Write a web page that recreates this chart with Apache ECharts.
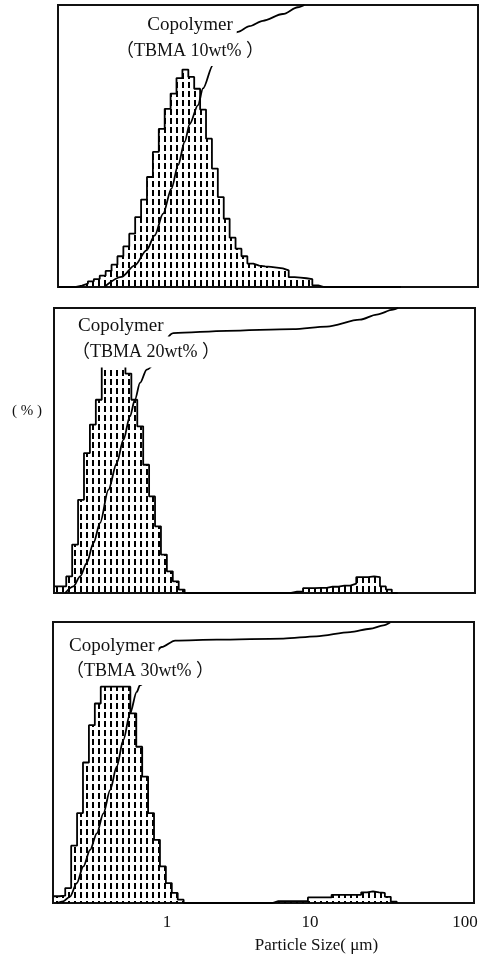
<!DOCTYPE html>
<html>
<head>
<meta charset="utf-8">
<script src="https://cdn.jsdelivr.net/npm/echarts@6/dist/echarts.min.js"></script>
<style>
html, body { margin: 0; padding: 0; background: #fff; }
#chart { width: 488px; height: 959px; }
</style>
</head>
<body>
<div id="chart"></div>
<script>
// analyser size classes (um), lower edge of each bin + last upper edge
var binEdges = [0.1605, 0.1766, 0.1942, 0.2137, 0.2350, 0.2585, 0.2844, 0.3128, 0.3441, 0.3785,
    0.4164, 0.4580, 0.5038, 0.5542, 0.6096, 0.6706, 0.7376, 0.8114, 0.8925, 0.9818,
    1.080, 1.188, 1.307, 1.437, 1.581, 1.739, 1.913, 2.104, 2.315, 2.546,
    2.801, 3.081, 3.389, 3.728, 4.101, 4.511, 4.962, 5.458, 6.004, 6.605,
    7.265, 7.992, 8.791, 9.670, 10.64, 11.70, 12.87, 14.16, 15.57, 17.13,
    18.84, 20.73, 22.80, 25.08, 27.59, 30.35, 33.38, 36.72, 40.39];

// frequency (%) per bin
var freq10 = [0, 0, 0, 0.05, 0.12, 0.20, 0.28, 0.40, 0.57, 0.79,
    1.09, 1.44, 1.89, 2.48, 3.10, 3.90, 4.79, 5.61, 6.32, 6.86,
    7.41, 7.71, 7.45, 7.03, 6.29, 5.26, 4.20, 3.19, 2.42, 1.75,
    1.36, 1.09, 0.83, 0.76, 0.73, 0.71, 0.69, 0.66, 0.59, 0.35,
    0.33, 0.31, 0.28, 0.06, 0, 0, 0, 0, 0, 0,
    0, 0, 0, 0, 0, 0, 0, 0];
var freq20 = [0.23, 0.23, 0.58, 1.70, 3.27, 4.91, 5.91, 6.78, 8.3, 8.4,
    8.4, 8.3, 7.7, 6.78, 5.85, 4.50, 3.39, 2.34, 1.35, 0.76,
    0.41, 0.12, 0, 0, 0, 0, 0, 0, 0, 0,
    0, 0, 0, 0, 0, 0, 0, 0, 0, 0,
    0.05, 0.06, 0.17, 0.17, 0.18, 0.18, 0.22, 0.22, 0.26, 0.26,
    0.33, 0.56, 0.56, 0.58, 0.56, 0.23, 0.12, 0];
var freq30 = [0.24, 0.26, 0.53, 2.04, 3.20, 5.00, 6.33, 7.10, 7.70, 7.70,
    7.70, 7.70, 7.70, 6.75, 5.56, 4.50, 3.20, 2.25, 1.30, 0.71,
    0.36, 0.12, 0, 0, 0, 0, 0, 0, 0, 0,
    0, 0, 0, 0, 0, 0, 0, 0.07, 0.07, 0.07,
    0.07, 0.07, 0.07, 0.20, 0.20, 0.20, 0.20, 0.29, 0.29, 0.29,
    0.29, 0.29, 0.38, 0.41, 0.38, 0.36, 0.22, 0.05];

// cumulative undersize curves
var cumSize10 = [0.340, 0.445, 0.551, 0.665, 0.760, 0.870, 0.995, 1.108, 1.233, 1.337, 1.528, 1.656, 1.946, 2.91, 3.51, 4.35, 6.01, 7.65, 8.52];
var cumPct10 = [0.2, 3.6, 7.7, 13.0, 18.3, 26.0, 34.9, 43.2, 51.5, 57.8, 64.5, 70.4, 78.7, 90.5, 92.5, 94.4, 96.8, 99.2, 100];
var cumSize20 = [0.191, 0.218, 0.243, 0.270, 0.301, 0.335, 0.383, 0.438, 0.488, 0.542, 0.587, 0.637, 0.710, 1.09, 2.58, 7.48, 12.9, 22.0, 28.8, 37.5, 40.6];
var cumPct20 = [0, 2.3, 5.8, 10.5, 17.5, 24.6, 36.2, 45.6, 53.8, 62.0, 67.8, 73.7, 78.4, 91.2, 92.0, 92.6, 93.5, 95.9, 97.7, 99.4, 100];
var cumSize30 = [0.170, 0.188, 0.210, 0.234, 0.260, 0.290, 0.323, 0.359, 0.400, 0.445, 0.495, 0.551, 0.614, 0.647, 0.918, 1.14, 2.23, 6.51, 11.1, 19.1, 26.3, 32.6, 36.3];
var cumPct30 = [0, 0.6, 2.3, 7.1, 13.0, 18.9, 24.8, 31.9, 40.2, 48.5, 58.0, 67.4, 75.1, 77.5, 91.1, 93.4, 93.7, 94.1, 94.9, 96.4, 97.6, 98.8, 99.8];

var tickLabels = [1, 10, 100];
var sampleNames = ['Copolymer', 'Copolymer', 'Copolymer'];
var sampleTags = ['（TBMA 10wt% ）', '（TBMA 20wt% ）', '（TBMA 30wt% ）'];

var SERIF = "'Liberation Serif', 'Noto Sans CJK JP', serif";

function hatch() {
    var c = document.createElement('canvas');
    c.width = 6;
    c.height = 9;
    var g = c.getContext('2d');
    g.fillStyle = '#000';
    g.fillRect(2, 1, 2, 6);
    return c;
}

function stepData(freq) {
    var d = [];
    for (var i = 0; i < freq.length; i++) {
        d.push([binEdges[i], freq[i]]);
    }
    d.push([binEdges[freq.length], 0]);
    return d;
}

function zip(xs, ys) {
    var d = [];
    for (var i = 0; i < xs.length; i++) d.push([xs[i], ys[i]]);
    return d;
}

var chart = echarts.init(document.getElementById('chart'));
var pattern = { image: hatch(), repeat: 'repeat' };

var grids = [
    { left: 58, top: 5, width: 420, height: 282 },
    { left: 54, top: 308, width: 421, height: 285 },
    { left: 53, top: 622, width: 421, height: 281 }
];
var freqs = [freq10, freq20, freq30];
var cums = [zip(cumSize10, cumPct10), zip(cumSize20, cumPct20), zip(cumSize30, cumPct30)];

var xAxes = [], yAxes = [], series = [];
grids.forEach(function (g, k) {
    g.show = true;
    g.borderColor = '#111';
    g.borderWidth = 2;
    g.containLabel = false;
    var last = k === grids.length - 1;
    xAxes.push({
        type: 'log', gridIndex: k, min: 0.1595, max: 140.2,
        axisLine: { show: false }, axisTick: { show: false }, splitLine: { show: false },
        axisLabel: {
            show: last, margin: 11, color: '#111', fontFamily: SERIF, fontSize: 17,
            formatter: function (v) {
                for (var i = 0; i < tickLabels.length; i++) {
                    if (Math.abs(v - tickLabels[i]) / tickLabels[i] < 1e-6) {
                        return i === tickLabels.length - 1 ? '{r|' + tickLabels[i] + '}' : String(tickLabels[i]);
                    }
                }
                return '';
            },
            rich: { r: { fontFamily: SERIF, fontSize: 17, color: '#111', padding: [0, 0, 0, 24] } }
        },
        name: last ? 'Particle Size( μm)' : '',
        nameLocation: 'middle', nameGap: 34,
        nameTextStyle: { fontFamily: SERIF, fontSize: 17, color: '#111', padding: [0, 0, 0, 106] }
    });
    yAxes.push({ type: 'value', gridIndex: k, min: 0, max: 10, show: false });
    yAxes.push({ type: 'value', gridIndex: k, min: 0, max: 100, show: false });
    series.push({
        type: 'line', xAxisIndex: k, yAxisIndex: 2 * k, step: 'end',
        data: stepData(freqs[k]), symbol: 'none',
        lineStyle: { color: '#000', width: 1.8 },
        areaStyle: { color: pattern, opacity: 1 },
        z: 2
    });
    series.push({
        type: 'line', xAxisIndex: k, yAxisIndex: 2 * k + 1, smooth: 0.3, smoothMonotone: 'x',
        data: cums[k], symbol: 'none',
        lineStyle: { color: '#000', width: 1.8 },
        z: 3
    });
});

// sample labels sit on white boxes that hide the curve behind them
var labelPos = [
    { nx: 191, ny: 25, tx: 190, ty: 51, align: 'center', pt: 6, pb: 6 },
    { nx: 76, ny: 326, tx: 70, ty: 352, align: 'left', pt: 4, pb: 9 },
    { nx: 67, ny: 646, tx: 64, ty: 671, align: 'left', pt: 6, pb: 4 }
];
var graphics = [];
labelPos.forEach(function (p, k) {
    graphics.push({
        type: 'text', z: 100,
        style: {
            text: sampleNames[k], x: p.nx, y: p.ny, align: p.align, verticalAlign: 'middle',
            font: '19px ' + SERIF, fill: '#111', backgroundColor: '#fff', padding: [2, 4, 2, 2]
        }
    });
    graphics.push({
        type: 'text', z: 100,
        style: {
            text: sampleTags[k], x: p.tx, y: p.ty, align: p.align, verticalAlign: 'middle',
            font: '18px ' + SERIF, fill: '#111', backgroundColor: '#fff', padding: [p.pt, 2, p.pb, 2]
        }
    });
});
graphics.push({
    type: 'text', z: 100,
    style: { text: '( % )', x: 27, y: 411, align: 'center', verticalAlign: 'middle', font: '15px ' + SERIF, fill: '#111' }
});

chart.setOption({
    animation: false,
    backgroundColor: '#fff',
    grid: grids,
    xAxis: xAxes,
    yAxis: yAxes,
    series: series,
    graphic: graphics
});
</script>
</body>
</html>
